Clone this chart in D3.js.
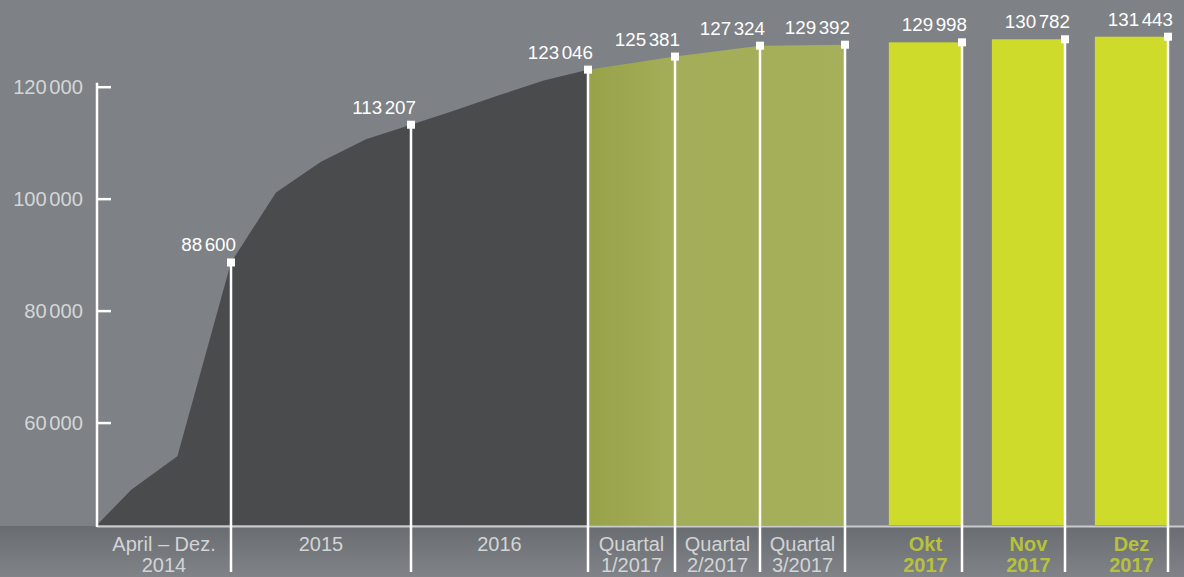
<!DOCTYPE html>
<html>
<head>
<meta charset="utf-8">
<script src="https://cdn.jsdelivr.net/npm/d3@7"></script>
<style>
  html, body { margin: 0; padding: 0; background: #7e8185; }
  svg { display: block; font-family: "Liberation Sans", Arial, sans-serif; }
</style>
</head>
<body>
<div id="chart"></div>
<script>
// Data
const yTicks = [60000, 80000, 100000, 120000];

// cumulative curve, x in months since April 2014
const curveMonths = [0, 2.3, 5.4, 9, 12, 15, 18, 21, 24, 27, 30, 33];
const curveValues = [41700, 48000, 54000, 88600, 101100, 106600, 110600, 113207, 115800, 118500, 121100, 123046];

const quarterMonths = [33, 36, 39, 42];
const quarterValues = [123046, 125381, 127324, 129392];

const periods = ["April – Dez.|2014", "2015", "2016", "Quartal|1/2017", "Quartal|2/2017", "Quartal|3/2017"];
const periodEnds = [9, 21, 33, 36, 39, 42];
const periodValues = [88600, 113207, 123046, 125381, 127324, 129392];

const months = ["Okt|2017", "Nov|2017", "Dez|2017"];
const monthValues = [129998, 130782, 131443];

const W = 1184, H = 577;
const baseY = 525, lineBottom = 572;

const fmt = d3.format(",d");

// numbers with a narrow gap between the thousands groups
function groupedText(sel, gap) {
  sel.each(function(v) {
    const groups = fmt(v).split(",");
    const t = d3.select(this);
    groups.forEach((g, k) => {
      t.append("tspan").attr("dx", k === 0 ? 0 : gap).text(g);
    });
  });
}

const svg = d3.select("#chart")
  .append("svg")
  .attr("width", W)
  .attr("height", H);

const defs = svg.append("defs");

const strip = defs.append("linearGradient").attr("id", "strip").attr("x1", 0).attr("y1", 0).attr("x2", 0).attr("y2", 1);
strip.append("stop").attr("offset", "0%").attr("stop-color", "#696c70");
strip.append("stop").attr("offset", "100%").attr("stop-color", "#808387");

const olive = defs.append("linearGradient").attr("id", "olive").attr("x1", 0).attr("y1", 0).attr("x2", 1).attr("y2", 0);
olive.append("stop").attr("offset", "0%").attr("stop-color", "#98a249");
olive.append("stop").attr("offset", "30%").attr("stop-color", "#a3ac56");
olive.append("stop").attr("offset", "100%").attr("stop-color", "#a6af5a");

// Scales (the picture squeezes the top end, so y is piecewise)
const y = d3.scaleLinear()
  .domain([41700, 127324, 129392, 131443])
  .range([baseY, 45.7, 44.7, 36.7]);

const x = d3.scaleLinear()
  .domain([0].concat(periodEnds))
  .range([97, 231, 411, 588, 675, 760, 845]);

const xb = d3.scaleBand()
  .domain(months)
  .range([859, 1168]);
const barW = xb.bandwidth() * 0.71;

// label strip under the baseline
svg.append("rect")
  .attr("x", 0).attr("y", baseY + 1)
  .attr("width", W).attr("height", H - baseY)
  .attr("fill", "url(#strip)");

// dark area
const area = d3.area()
  .x(d => x(d[0]))
  .y0(y(41700))
  .y1(d => y(d[1]));

svg.append("path")
  .datum(curveMonths.map((m, i) => [m, curveValues[i]]))
  .attr("d", area)
  .attr("fill", "#4a4b4d");

// 2017 quarters
svg.append("path")
  .datum(quarterMonths.map((m, i) => [m, quarterValues[i]]))
  .attr("d", area)
  .attr("fill", "url(#olive)");

// month bars
svg.selectAll(".bar")
  .data(months)
  .enter()
  .append("rect")
  .attr("class", "bar")
  .attr("x", d => xb(d) + xb.bandwidth() - barW)
  .attr("y", (d, i) => y(monthValues[i]))
  .attr("width", barW)
  .attr("height", (d, i) => baseY - y(monthValues[i]))
  .attr("fill", "#cfdb2a");

// baseline
svg.append("line")
  .attr("x1", x(0)).attr("x2", W)
  .attr("y1", baseY + 1.5).attr("y2", baseY + 1.5)
  .attr("stroke", "#c9cbcd")
  .attr("stroke-width", 2);

// y axis
const yAxis = svg.append("g")
  .attr("transform", `translate(${x(0)},0)`)
  .call(d3.axisLeft(y).tickValues(yTicks).tickSize(-14).tickPadding(14).tickFormat(""));

yAxis.select(".domain").remove();
yAxis.selectAll(".tick line").attr("stroke", "#ffffff").attr("stroke-width", 2.5);
yAxis.selectAll(".tick text")
  .attr("fill", "#d4d6d8")
  .style("font-size", "20.2px")
  .style("font-family", "'Liberation Sans', Arial, sans-serif")
  .call(groupedText, 2.5);

svg.append("line")
  .attr("x1", x(0)).attr("x2", x(0))
  .attr("y1", y(120000) - 4).attr("y2", baseY + 2)
  .attr("stroke", "#ffffff")
  .attr("stroke-width", 2.5);

// markers: period ends + bar right edges
const points = periodEnds.map((m, i) => ({ px: x(m), v: periodValues[i] }))
  .concat(months.map((d, i) => ({ px: xb(d) + xb.bandwidth(), v: monthValues[i] })));

svg.selectAll(".drop")
  .data(points)
  .enter()
  .append("line")
  .attr("class", "drop")
  .attr("x1", d => d.px).attr("x2", d => d.px)
  .attr("y1", d => y(d.v)).attr("y2", lineBottom)
  .attr("stroke", "#ffffff")
  .attr("stroke-width", 2.5);

svg.selectAll(".marker")
  .data(points)
  .enter()
  .append("rect")
  .attr("class", "marker")
  .attr("x", d => d.px - 4)
  .attr("y", d => y(d.v) - 4)
  .attr("width", 8)
  .attr("height", 8)
  .attr("fill", "#ffffff");

svg.selectAll(".val")
  .data(points.map(d => d.v))
  .enter()
  .append("text")
  .attr("class", "val")
  .attr("x", (d, i) => points[i].px + 5)
  .attr("y", (d, i) => y(d) - 11)
  .attr("text-anchor", "end")
  .attr("fill", "#ffffff")
  .style("font-size", "18.8px")
  .call(groupedText, 2.5);

// category labels
function twoLines(sel, fill, weight) {
  sel.each(function(d) {
    const parts = d.label.split("|");
    const t = d3.select(this)
      .attr("text-anchor", "middle")
      .attr("fill", fill)
      .style("font-size", "20px")
      .style("font-weight", weight);
    parts.forEach((p, k) => {
      t.append("tspan")
        .attr("x", d.cx)
        .attr("y", 551 + k * 21)
        .text(p);
    });
  });
}

svg.selectAll(".plabel")
  .data(periods.map((p, i) => ({ label: p, cx: (x(i === 0 ? 0 : periodEnds[i - 1]) + x(periodEnds[i])) / 2 })))
  .enter()
  .append("text")
  .attr("class", "plabel")
  .call(twoLines, "#d2d4d6", "normal");

svg.selectAll(".mlabel")
  .data(months.map(d => ({ label: d, cx: xb(d) + xb.bandwidth() - barW / 2 })))
  .enter()
  .append("text")
  .attr("class", "mlabel")
  .call(twoLines, "#b6c23b", "bold");
</script>
</body>
</html>
